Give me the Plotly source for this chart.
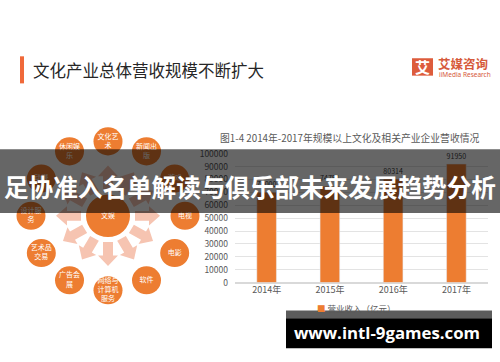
import math
import plotly.graph_objects as go

# ---------------- data ----------------
years = ["2014年", "2015年", "2016年", "2017年"]
revenue = [70000, 74751, 80314, 91950]
series_name = "营业收入（亿元）"
y_ticks = [0, 10000, 20000, 30000, 40000, 50000, 60000, 70000, 80000, 90000, 100000]

hub_label = "文娱"
node_labels = ["电视", "游戏", "新闻出<br>版", "文化艺<br>术", "休闲娱<br>乐", "动漫",
               "设计服<br>务", "艺术品<br>交易", "广告会<br>展", "网络与<br>计算机<br>服务",
               "软件", "电影"]
node_angles = [0, 30, 60, 90, 120, 150, 180, 210, 240, 270, 300, 330]

page_title = "文化产业总体营收规模不断扩大"
chart_title = "图1-4 2014年-2017年规模以上文化及相关产业企业营收情况"
banner_text = "足协准入名单解读与俱乐部未来发展趋势分析"
url_text = "www.intl-9games.com"

# ---------------- style ----------------
W, H = 500, 362
ORANGE = "#ED7D31"
ARROW = "#f6c4b1"
CJK = "Noto Sans CJK SC"

fig = go.Figure()

def py(y):
    return 1 - y / H

# bar chart
fig.add_trace(go.Bar(
    x=years, y=revenue, name=series_name, marker_color=ORANGE,
    text=[str(v) for v in revenue], textposition="outside",
    textfont=dict(size=9, color="#404040", family=CJK),
    cliponaxis=False, showlegend=False, xaxis="x", yaxis="y"))

# diagram (pixel-space axes x2/y2)
cx, cy, R = 108, 216, 77
nx = [cx + R * math.cos(math.radians(a)) for a in node_angles]
ny = [cy - R * math.sin(math.radians(a)) for a in node_angles]

shapes = []
# arrows
for a in node_angles:
    t = math.radians(a)
    ux, uy = math.cos(t), -math.sin(t)
    vx, vy = -uy, ux
    r0, r1, r2, hw, hh = 27, 41, 52, 5, 10
    pts = [(r0, -hw), (r1, -hw), (r1, -hh), (r2, 0), (r1, hh), (r1, hw), (r0, hw)]
    coords = [(cx + ux * r + vx * s, cy + uy * r + vy * s) for r, s in pts]
    path = "M" + " L".join(f"{x:.2f},{y:.2f}" for x, y in coords) + " Z"
    shapes.append(dict(type="path", path=path, xref="x2", yref="y2",
                       fillcolor=ARROW, line=dict(width=0), layer="below"))
# circles
shapes.append(dict(type="circle", xref="x2", yref="y2", x0=cx - 22, x1=cx + 22,
                   y0=cy - 22, y1=cy + 22, fillcolor=ORANGE, line=dict(width=0), layer="below"))
for x, y in zip(nx, ny):
    shapes.append(dict(type="circle", xref="x2", yref="y2", x0=x - 14.5, x1=x + 14.5,
                       y0=y - 14.5, y1=y + 14.5, fillcolor=ORANGE, line=dict(width=0), layer="below"))

fig.add_trace(go.Scatter(
    x=nx + [cx], y=ny + [cy], mode="text", text=node_labels + [hub_label],
    textfont=dict(size=7, color="white", family=CJK), showlegend=False,
    hoverinfo="skip", xaxis="x2", yaxis="y2"))

# header decorations
shapes.append(dict(type="rect", xref="x2", yref="y2", x0=20, x1=24, y0=51, y1=79,
                   fillcolor="#f0693a", line=dict(width=0), layer="below"))
shapes.append(dict(type="rect", xref="x2", yref="y2", x0=412, x1=433, y0=53, y1=71,
                   fillcolor="#dd5c3c", line=dict(width=0), layer="below"))
# overlay band + url box
shapes.append(dict(type="rect", xref="x2", yref="y2", x0=0, x1=W, y0=147, y1=213,
                   fillcolor="rgba(0,0,0,0.6)", line=dict(width=0), layer="above"))
shapes.append(dict(type="rect", xref="x2", yref="y2", x0=286, x1=492, y0=314, y1=322,
                   fillcolor="#5c5c5c", line=dict(width=0), layer="above"))
shapes.append(dict(type="rect", xref="x2", yref="y2", x0=286, x1=492, y0=322, y1=353,
                   fillcolor="#000000", line=dict(width=0), layer="above"))

annotations = [
    dict(text=page_title, x=31 / W, y=py(65), xref="paper", yref="paper",
         xanchor="left", yanchor="middle", showarrow=False,
         font=dict(size=16.5, color="#262626", family=CJK)),
    dict(text="<b>艾</b>", x=422.5 / W, y=py(62), xref="paper", yref="paper",
         xanchor="center", yanchor="middle", showarrow=False,
         font=dict(size=15, color="white", family=CJK)),
    dict(text="<b>艾媒咨询</b>", x=436 / W, y=py(58), xref="paper", yref="paper",
         xanchor="left", yanchor="middle", showarrow=False,
         font=dict(size=12.5, color="#d65a3b", family=CJK)),
    dict(text="iiMedia Research", x=437 / W, y=py(70), xref="paper", yref="paper",
         xanchor="left", yanchor="middle", showarrow=False,
         font=dict(size=6.5, color="#d65a3b", family="Noto Sans")),
    dict(text=chart_title, x=350 / W, y=py(135), xref="paper", yref="paper",
         xanchor="center", yanchor="middle", showarrow=False,
         font=dict(size=9.8, color="#595959", family=CJK)),
    dict(text=f"<span style='color:{ORANGE}'>■</span> {series_name}", x=315 / W, y=py(311),
         xref="paper", yref="paper", xanchor="left", yanchor="middle", showarrow=False,
         font=dict(size=8.5, color="#595959", family=CJK)),
    dict(text=f"<b>{banner_text}</b>", x=250 / W, y=py(185), xref="paper", yref="paper",
         xanchor="center", yanchor="middle", showarrow=False,
         font=dict(size=24.6, color="white", family=CJK)),
    dict(text=f"<b>{url_text}</b>", x=387 / W, y=py(337), xref="paper", yref="paper",
         xanchor="center", yanchor="middle", showarrow=False,
         font=dict(size=16.8, color="white", family="Open Sans")),
]

fig.update_layout(
    width=W, height=H, margin=dict(l=0, r=0, t=0, b=0),
    paper_bgcolor="white", plot_bgcolor="rgba(0,0,0,0)",
    bargap=0.69, showlegend=False,
    shapes=shapes, annotations=annotations,
    xaxis=dict(domain=[235 / W, 488 / W], anchor="y", showgrid=False, showline=False,
               zeroline=False, tickfont=dict(size=9, color="#595959", family=CJK),
               ticks="", fixedrange=True),
    yaxis=dict(domain=[py(285), py(151.7)], anchor="x", range=[0, 100000],
               tickvals=y_ticks, tickformat="d", showgrid=True, gridcolor="#e3e3e3",
               gridwidth=1, zeroline=True, zerolinecolor="#d9d9d9", showline=False,
               tickfont=dict(size=8.5, color="#595959", family=CJK),
               ticklabelstandoff=6, fixedrange=True),
    xaxis2=dict(domain=[0, 1], anchor="y2", range=[0, W], visible=False, fixedrange=True),
    yaxis2=dict(domain=[0, 1], anchor="x2", range=[H, 0], visible=False, fixedrange=True),
)

fig.write_html("out.html", config={"displayModeBar": False, "staticPlot": True},
               post_script="document.body.style.margin='0';")
